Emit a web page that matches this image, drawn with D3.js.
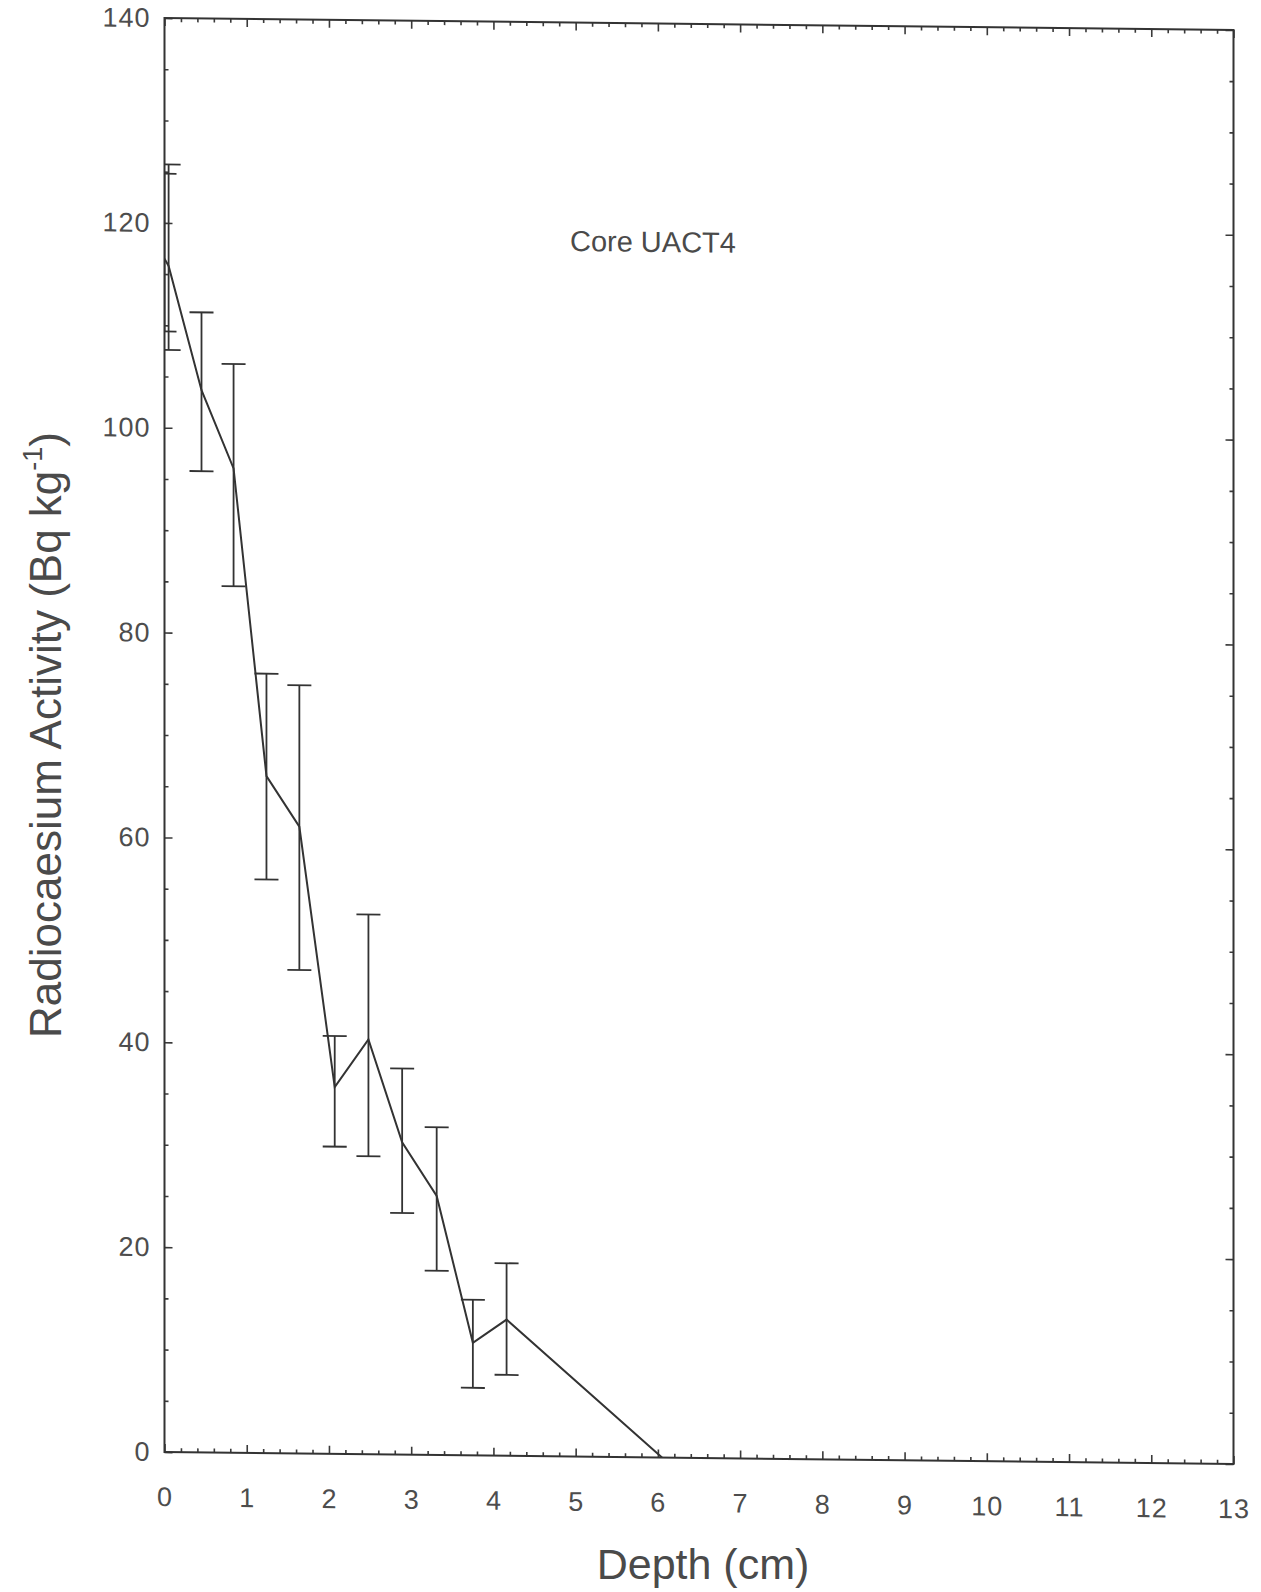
<!DOCTYPE html>
<html>
<head>
<meta charset="utf-8">
<script src="https://cdn.jsdelivr.net/npm/d3@7"></script>
<style>
  body { margin: 0; background: #fff; }
  svg { display: block; font-family: "Liberation Sans", Arial, sans-serif; }
  .tick text { fill: #4d4d4d; font-size: 27px; letter-spacing: 1px; }
  .tick line { stroke: #3a3a3a; stroke-width: 1.6; }
</style>
</head>
<body>
<div id="chart"></div>
<script>
// Core UACT4 profile
const depth   = [0.0, 0.05, 0.45, 0.84, 1.24, 1.64, 2.07, 2.48, 2.89, 3.31, 3.75, 4.16, 6.05];
const activity = [116.5, 115.8, 103.7, 96.1, 66.1, 61.2, 35.8, 40.5, 30.5, 25.3, 11.0, 13.3, 0];
const errLow  = [109.4, 107.6, 95.8, 84.6, 56.0, 47.2, 30.0, 29.1, 23.6, 18.0, 6.6, 7.9, null];
const errHigh = [124.8, 125.7, 111.3, 106.3, 76.1, 75.0, 40.8, 52.7, 37.7, 32.0, 15.2, 18.8, null];

const xTicks = d3.range(0, 14);
const yTicks = [0, 20, 40, 60, 80, 100, 120, 140];

// Set the dimensions and margins of the graph
const W = 1261, H = 1592;
const margin = {top: 18, left: 164.5},
      width = 1069,
      height = 1434;

const svg = d3.select("#chart")
              .append("svg")
              .attr("width", W)
              .attr("height", H);

// the scan is slightly sheared, right side sits lower
const g = svg.append("g")
             .attr("transform", `translate(${margin.left},${margin.top}) skewY(0.64)`);

const x = d3.scaleLinear().domain([0, 13]).range([0, width]);
const y = d3.scaleLinear().domain([0, 140]).range([height, 0]);

const minorX = d3.range(0, 13.01, 0.2).filter(v => Math.abs(v - Math.round(v)) > 1e-6);
const minorY = d3.range(5, 140, 5).filter(v => v % 20 !== 0);

// Axes, ticks pointing inward
g.append("g").attr("transform", `translate(0,${height})`)
 .call(d3.axisBottom(x).tickValues(xTicks).tickFormat(d3.format("d")).tickSize(-8).tickPadding(35));
g.append("g").attr("transform", `translate(0,${height})`)
 .call(d3.axisBottom(x).tickValues(minorX).tickFormat("").tickSize(-4));
g.append("g")
 .call(d3.axisTop(x).tickValues(xTicks).tickFormat("").tickSize(-8));
g.append("g")
 .call(d3.axisTop(x).tickValues(minorX).tickFormat("").tickSize(-4));

g.append("g")
 .call(d3.axisLeft(y).tickValues(yTicks).tickFormat(d3.format("d")).tickSize(-8).tickPadding(14));
g.append("g")
 .call(d3.axisLeft(y).tickValues(minorY).tickFormat("").tickSize(-4));
g.append("g").attr("transform", `translate(${width},0)`)
 .call(d3.axisRight(y).tickValues(yTicks).tickFormat("").tickSize(-8));
g.append("g").attr("transform", `translate(${width},0)`)
 .call(d3.axisRight(y).tickValues(minorY).tickFormat("").tickSize(-4));

g.selectAll(".domain").remove();

// Frame
g.append("rect")
 .attr("width", width)
 .attr("height", height)
 .attr("fill", "none")
 .attr("stroke", "#333")
 .attr("stroke-width", 2);

g.append("clipPath").attr("id", "plotclip")
 .append("rect").attr("width", width).attr("height", height);

const plot = g.append("g").attr("clip-path", "url(#plotclip)");

const pts = depth.map((d, i) => ({d: d, v: activity[i], lo: errLow[i], hi: errHigh[i]}));

// Error bars
const capW = 12;
const bars = plot.selectAll(".err")
                 .data(pts.filter(p => p.lo !== null))
                 .enter().append("g")
                 .attr("class", "err")
                 .attr("stroke", "#333")
                 .attr("stroke-width", 1.8);
bars.append("line")
    .attr("x1", p => x(p.d)).attr("x2", p => x(p.d))
    .attr("y1", p => y(p.hi)).attr("y2", p => y(p.lo));
bars.append("line")
    .attr("x1", p => x(p.d) - capW).attr("x2", p => x(p.d) + capW)
    .attr("y1", p => y(p.hi)).attr("y2", p => y(p.hi));
bars.append("line")
    .attr("x1", p => x(p.d) - capW).attr("x2", p => x(p.d) + capW)
    .attr("y1", p => y(p.lo)).attr("y2", p => y(p.lo));

// Profile line
const line = d3.line()
               .x(p => x(p.d))
               .y(p => y(p.v));
plot.append("path")
    .datum(pts)
    .attr("d", line)
    .attr("fill", "none")
    .attr("stroke", "#333")
    .attr("stroke-width", 2);

// Core label
g.append("text")
 .attr("x", x(5.94))
 .attr("y", y(117.7))
 .attr("text-anchor", "middle")
 .attr("font-size", 29)
 .attr("fill", "#4a4a4a")
 .text("Core UACT4");

// Axis titles
svg.append("text")
   .attr("x", 703)
   .attr("y", 1579)
   .attr("text-anchor", "middle")
   .attr("font-size", 43)
   .attr("fill", "#4a4a4a")
   .text("Depth (cm)");

const yTitle = svg.append("text")
   .attr("transform", "translate(61,735) rotate(-90)")
   .attr("text-anchor", "middle")
   .attr("font-size", 44)
   .attr("fill", "#4a4a4a");
yTitle.append("tspan").text("Radiocaesium Activity (Bq kg");
yTitle.append("tspan").attr("font-size", 27).attr("dy", -19).text("-1");
yTitle.append("tspan").attr("dy", 19).text(")");
</script>
</body>
</html>
